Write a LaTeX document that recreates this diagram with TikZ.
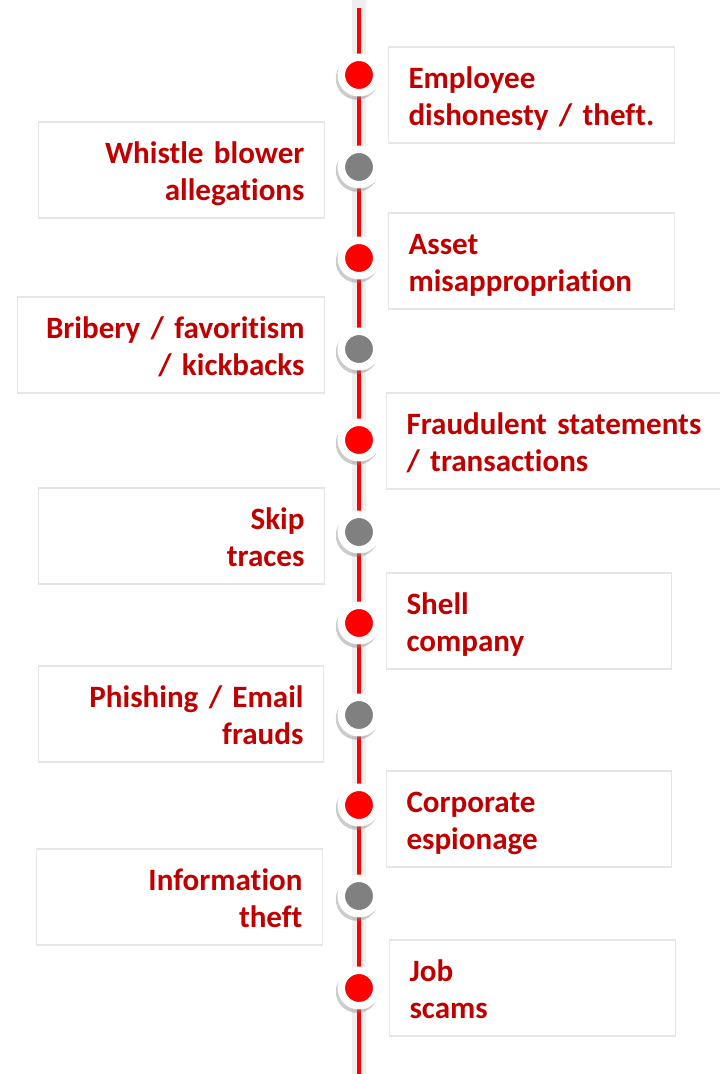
\documentclass[tikz,border=0pt]{standalone}
\usepackage{fontspec}
\setmainfont{Carlito}[Ligatures=NoCommon]
\usepackage{xcolor}
\usepackage{tikz}
\usetikzlibrary{shadows}

\definecolor{txtred}{HTML}{C00000}
\definecolor{dotred}{HTML}{FF0000}
\definecolor{dotgray}{HTML}{808080}
\definecolor{boxline}{HTML}{E6E6E6}
\definecolor{bandgray}{HTML}{EFEFEF}

\hyphenpenalty=10000

% two-line card text with fixed line boxes
\newcommand{\cardtext}[2]{\rule{0pt}{23pt}#1\\#2\rule[-4.9pt]{0pt}{4.9pt}}

\tikzset{
  dot/.style={circle, fill=#1, draw=white, line width=5.6pt, minimum size=26.6pt, inner sep=0pt,
    drop shadow={shadow xshift=-1.2pt, shadow yshift=-2.2pt, shadow scale=1.2, opacity=0.4}},
  card/.style={draw=boxline, line width=0.8pt, fill=white, minimum height=72pt, inner xsep=15pt,
    inner ysep=0pt, text=txtred, font=\bfseries\fontsize{23.3}{27.5}\selectfont},
  rcard/.style={card, anchor=west, align=left, text width=#1},
  lcard/.style={card, anchor=east, align=right, text width=#1}
}

\begin{document}
\begin{tikzpicture}[x=0.75pt, y=-0.75pt]
\useasboundingbox (0,0) rectangle (719,1074);

% Spine
\coordinate (top) at (359,3);
\coordinate (bot) at (359,1080);
\draw[bandgray, line width=10.5pt, line cap=round] (top) -- (bot);
\draw[dotred, line width=2.4pt] ([yshift=-4pt]top) -- (bot);

% Right cards
\node[rcard=184.5pt] (employee) at (388,95) {\cardtext{Employee}{dishonesty / theft.}};
\node[rcard=184.5pt] (asset) at (388,261) {\cardtext{Asset}{misappropriation}};
\node[rcard=240pt] (fraud) at (386,441) {\cardtext{Fraudulent statements}{/ transactions}};
\node[rcard=183.75pt] (shell) at (386,621) {\cardtext{Shell}{company}};
\node[rcard=183.75pt] (espionage) at (386,819) {\cardtext{Corporate}{espionage}};
\node[rcard=184.5pt] (jobs) at (389,988) {\cardtext{Job}{scams}};

% Left cards
\node[lcard=184.5pt] (whistle) at (325,170) {\cardtext{Whistle blower}{allegations}};
\node[lcard=200.25pt] (bribery) at (325,345) {\cardtext{Bribery / favoritism}{/ kickbacks}};
\node[lcard=184.5pt] (skip) at (325,536) {\cardtext{Skip}{traces}};
\node[lcard=183.75pt] (phishing) at (324,714) {\cardtext{Phishing / Email}{frauds}};
\node[lcard=184.5pt] (infotheft) at (323,897) {\cardtext{Information}{theft}};

% Milestones
\node[dot=dotred] (m1) at (359,75) {};
\node[dot=dotgray] (m2) at (359,167) {};
\node[dot=dotred] (m3) at (359,258) {};
\node[dot=dotgray] (m4) at (359,349) {};
\node[dot=dotred] (m5) at (359,440) {};
\node[dot=dotgray] (m6) at (359,532) {};
\node[dot=dotred] (m7) at (359,623) {};
\node[dot=dotgray] (m8) at (359,715) {};
\node[dot=dotred] (m9) at (359,805) {};
\node[dot=dotgray] (m10) at (359,896) {};
\node[dot=dotred] (m11) at (359,988) {};

\end{tikzpicture}
\end{document}
